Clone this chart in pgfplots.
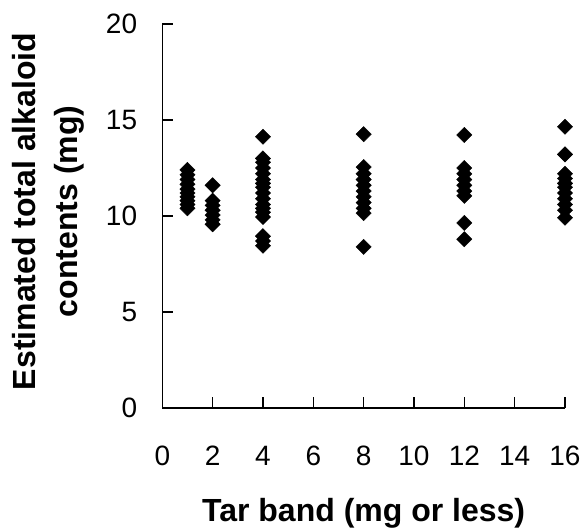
\documentclass[border=0pt]{standalone}
\usepackage{fontspec}
\setmainfont{Liberation Sans}
\usepackage{pgfplots}
\pgfplotsset{compat=1.18}
\begin{document}
\begin{tikzpicture}
\useasboundingbox (-162.3pt,-124pt) rectangle (423.7pt,408pt);
\begin{axis}[
  at={(0pt,0pt)}, anchor=south west,
  scale only axis, width=402.7pt, height=384pt,
  xmin=0, xmax=16, ymin=0, ymax=20,
  xtick={0,2,...,16}, ytick={0,5,...,20},
  axis lines=left,
  axis line style={-, line width=1.3pt},
  every tick/.style={black, line width=1.3pt},
  tick align=inside,
  major tick length=11pt,
  clip=false,
  /pgf/number format/assume math mode=true,
  ticklabel style={font=\fontsize{28}{30}\selectfont, inner sep=0pt},
  xticklabel style={anchor=base, yshift=-57pt},
  yticklabel style={anchor=east, xshift=-25pt},
  xlabel={Tar band (mg or less)},
  ylabel={Estimated total alkaloid\\contents (mg)},
  xlabel style={at={(axis description cs:0.5,0)}, anchor=base, yshift=-113.7pt, inner sep=0pt, font=\fontsize{32}{42}\selectfont\bfseries},
  ylabel style={at={(axis description cs:-0.2118,0.512)}, anchor=base, inner sep=0pt, align=center, font=\fontsize{32}{42}\selectfont\bfseries},
]
\addplot[only marks, mark=square*, mark size=5.4pt, mark options={rotate=45, fill=black, draw=black}] coordinates {
 (1,12.4) (1,12.15) (1,11.9) (1,11.65) (1,11.4) (1,11.2) (1,11.0) (1,10.8) (1,10.6) (1,10.4)
 (2,11.6) (2,10.8) (2,10.55) (2,10.3) (2,10.05) (2,9.8) (2,9.57)
 (4,14.13) (4,13.0) (4,12.8) (4,12.5) (4,12.2) (4,11.9) (4,11.7) (4,11.5) (4,11.2) (4,10.9) (4,10.6) (4,10.4) (4,10.2) (4,9.95) (4,8.95) (4,8.7) (4,8.45)
 (8,14.26) (8,12.55) (8,12.2) (8,11.9) (8,11.6) (8,11.3) (8,11.0) (8,10.7) (8,10.4) (8,10.15) (8,8.39)
 (12,14.22) (12,12.5) (12,12.2) (12,11.9) (12,11.6) (12,11.3) (12,11.05) (12,9.64) (12,8.79)
 (16,14.65) (16,13.21) (16,12.2) (16,11.95) (16,11.7) (16,11.5) (16,11.2) (16,10.9) (16,10.6) (16,10.3) (16,9.91)
};
\end{axis}
\end{tikzpicture}
\end{document}
